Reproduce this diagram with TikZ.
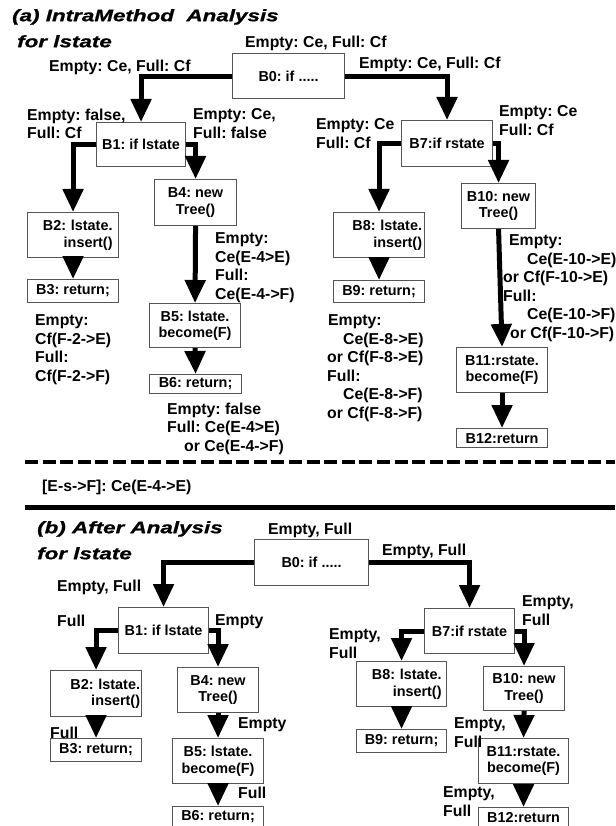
\documentclass[tikz,border=0pt]{standalone}
\usepackage{fontspec}
\setmainfont{Liberation Sans}
\newfontfamily\cfgtitlefamily{Liberation Sans}[FakeStretch=1.35,FakeBold=1]
\usetikzlibrary{arrows.meta}
\definecolor{boxline}{HTML}{555555}
\frenchspacing
\newcommand\cfglabelfont{\fontsize{15.8}{18.6}\selectfont\bfseries}
\newcommand\cfgnodefont{\fontsize{14.4}{16.5}\selectfont\bfseries}
\newcommand\cfgtitlefont{\cfgtitlefamily\fontsize{16.6}{26}\selectfont\bfseries\itshape}
\begin{document}
\begin{tikzpicture}[x=1pt,y=-1pt,
  block/.style={draw=boxline, line width=1.1pt, inner sep=0pt, align=center, font=\cfgnodefont},
  spot/.style n args={4}{at={(#1,#2)}, anchor=north west,
    minimum width={(#3-#1)*1pt}, minimum height={(#4-#2)*1pt}},
  note/.style={anchor=north west, inner sep=0pt, align=left, font=\cfglabelfont},
  heading/.style={anchor=north west, inner sep=0pt, align=left, font=\cfgtitlefont},
  flow/.style={line width=5pt, -{Triangle[length=23pt,width=20pt]}},
  rule/.style={line width=5pt},
  dashrule/.style={line width=4pt, dash pattern=on 13pt off 4.6pt},
]
\useasboundingbox (0,0) rectangle (615,826);

% ---------------- (a) intra-method analysis ----------------
\node[heading] (titleA) at (12,9) {(a) IntraMethod\ \ Analysis\\\hspace*{5pt}for lstate};

\node[block, spot={232}{53}{344}{98}]   (a0)  {B0: if .....};
\node[block, spot={96}{122}{185}{166}]  (a1)  {B1: if lstate};
\node[block, spot={27}{212}{118}{257}, text width=79pt, align=right] (a2) {B2: lstate.\\insert()};
\node[block, spot={27}{279}{118}{302}]  (a3)  {B3: return;};
\node[block, spot={154}{179}{236}{225}] (a4)  {B4: new\\Tree()};
\node[block, spot={149}{303}{240}{347}] (a5)  {B5: lstate.\\become(F)};
\node[block, spot={149}{374}{241}{393}] (a6)  {B6: return;};
\node[block, spot={401}{120}{492}{166}] (a7)  {B7:if rstate};
\node[block, spot={333}{212}{424}{257}, text width=86pt, align=right] (a8) {B8: lstate.\\insert()};
\node[block, spot={333}{280}{424}{302}] (a9)  {B9: return;};
\node[block, spot={461}{183}{535}{228}] (a10) {B10: new\\Tree()};
\node[block, spot={456}{347}{547}{392}] (a11) {B11:rstate.\\become(F)};
\node[block, spot={456}{428}{547}{447}] (a12) {B12:return};

\draw[flow] (a0.west) -| (a1.north);
\draw[flow] (a0.east) -| (a7.north);
\draw[flow] (a1.west) -| (a2.north);
\draw[flow] (a1.east) -| (a4.north);
\draw[flow] (a2.south) -- (a3.north);
\draw[flow] (a4.south) -- (a5.north);
\draw[flow] (a5.south) -- (a6.north);
\draw[flow] (a7.west) -| (a8.north);
\draw[flow] (a7.east) -| (a10.north);
\draw[flow] (a8.south) -- (a9.north);
\draw[flow] (a10.south) -- (a11.north);
\draw[flow] (a11.south) -- (a12.north);

\node[note] (na0)  at (245,35.5)  {Empty: Ce, Full: Cf};
\node[note] (na1)  at (49,59.5)   {Empty: Ce, Full: Cf};
\node[note] (na2)  at (359,56.5)  {Empty: Ce, Full: Cf};
\node[note] (na3)  at (27,108.5)  {Empty: false,\\Full: Cf};
\node[note] (na4)  at (193,108.5) {Empty: Ce,\\Full: false};
\node[note] (na5)  at (316,118.5) {Empty: Ce\\Full: Cf};
\node[note] (na6)  at (499,105.5) {Empty: Ce\\Full: Cf};
\node[note] (na7)  at (215,232.5) {Empty:\\Ce(E-4>E)\\Full:\\Ce(E-4->F)};
\node[note] (na8)  at (35,314.5)  {Empty:\\Cf(F-2->E)\\Full:\\Cf(F-2->F)};
\node[note] (na9)  at (167,402.5) {Empty: false\\Full: Ce(E-4>E)\\\hspace*{17pt}or Ce(E-4->F)};
\node[note] (na10) at (327,314.5) {\hspace*{1pt}Empty:\\\hspace*{16pt}Ce(E-8->E)\\or Cf(F-8->E)\\Full:\\\hspace*{16pt}Ce(E-8->F)\\or Cf(F-8->F)};
\node[note] (na11) at (503,234.5) {\hspace*{6pt}Empty:\\\hspace*{24pt}Ce(E-10->E)\\or Cf(F-10->E)\\Full:\\\hspace*{24pt}Ce(E-10->F)\\\hspace*{7pt}or Cf(F-10->F)};

% ---------------- separators ----------------
\coordinate (dashL) at (25,462);
\coordinate (dashR) at (615,462);
\draw[dashrule] (dashL) -- (dashR);
\node[note] (summary) at (42,479.5) {[E-s->F]: Ce(E-4->E)};
\coordinate (ruleL) at (25,507);
\coordinate (ruleR) at (615,507);
\draw[rule] (ruleL) -- (ruleR);

% ---------------- (b) after analysis ----------------
\node[heading] (titleB) at (37,521) {(b) After Analysis\\for lstate};

\node[block, spot={254}{539}{368}{585}] (b0)  {B0: if .....};
\node[block, spot={118}{607}{208}{653}] (b1)  {B1: if lstate};
\node[block, spot={50}{670}{141}{716}, text width=88pt, align=right] (b2) {B2: lstate.\\insert()};
\node[block, spot={50}{738}{141}{761}]  (b3)  {B3: return;};
\node[block, spot={177}{667}{258}{712}] (b4)  {B4: new\\Tree()};
\node[block, spot={172}{738}{263}{783}] (b5)  {B5: lstate.\\become(F)};
\node[block, spot={172}{806}{263}{826}] (b6)  {B6: return;};
\node[block, spot={424}{608}{514}{653}] (b7)  {B7:if rstate};
\node[block, spot={356}{661}{446}{706}, text width=80pt, align=right] (b8) {B8: lstate.\\insert()};
\node[block, spot={356}{729}{446}{752}] (b9)  {B9: return;};
\node[block, spot={483}{666}{564}{710}] (b10) {B10: new\\Tree()};
\node[block, spot={478}{738}{568}{783}] (b11) {B11:rstate.\\become(F)};
\node[block, spot={478}{807}{568}{826}] (b12) {B12:return};

\draw[flow] (b0.west) -| (b1.north);
\draw[flow] (b0.east) -| (b7.north);
\draw[flow] (b1.west) -| (b2.north);
\draw[flow] (b1.east) -| (b4.north);
\draw[flow] (b2.south) -- (b3.north);
\draw[flow] (b4.south) -- (b5.north);
\draw[flow] (b5.south) -- (b6.north);
\draw[flow] (b7.west) -| (b8.north);
\draw[flow] (b7.east) -| (b10.north);
\draw[flow] (b8.south) -- (b9.north);
\draw[flow] (b10.south) -- (b11.north);
\draw[flow] (b11.south) -- (b12.north);

\node[note] (nb0)  at (268,522.5) {Empty, Full};
\node[note] (nb1)  at (57,579.5)  {Empty, Full};
\node[note] (nb2)  at (382,543.5) {Empty, Full};
\node[note] (nb3)  at (57,614.5)  {Full};
\node[note] (nb4)  at (215,614.5) {Empty};
\node[note] (nb5)  at (50,726.5)  {Full};
\node[note] (nb6)  at (238,717.5) {Empty};
\node[note] (nb7)  at (238,786.5) {Full};
\node[note] (nb8)  at (329,628.5) {Empty,\\Full};
\node[note] (nb9)  at (522,595.5) {Empty,\\Full};
\node[note] (nb10) at (454,717.5) {Empty,\\Full};
\node[note] (nb11) at (443,786.5) {Empty,\\Full};
\end{tikzpicture}
\end{document}
